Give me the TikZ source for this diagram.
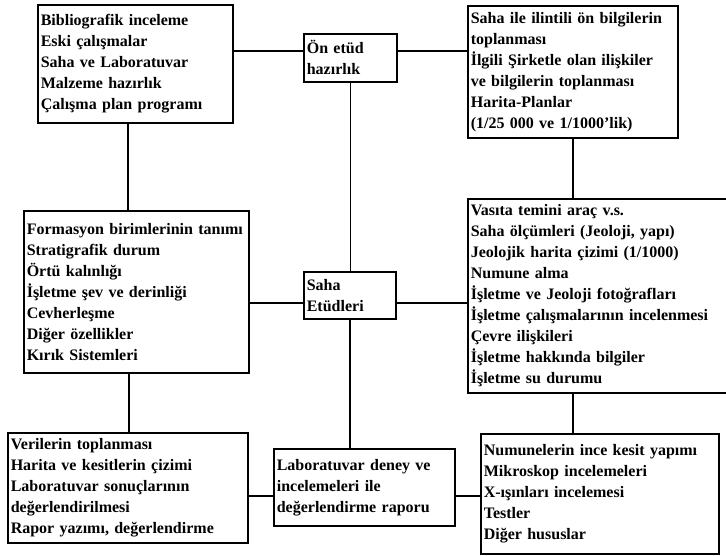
\documentclass[tikz,border=0pt]{standalone}
\usepackage{fontspec}
\setmainfont{Liberation Serif}
\begin{document}
\begin{tikzpicture}[x=1pt,y=-1pt,
  box/.style={draw=black, line width=1.6pt, fill=white, anchor=north west,
    inner xsep=3pt, inner ysep=2pt, align=left,
    font=\fontsize{16}{21}\selectfont\bfseries},
  link/.style={draw=black, line width=1.6pt}]
\useasboundingbox[fill=white] (0,0) rectangle (726,556);

\node[box, minimum width=195pt, minimum height=118pt, text width=189pt] (tl) at (37,4)
  {Bibliografik inceleme\\Eski çalışmalar\\Saha ve Laboratuvar\\Malzeme hazırlık\\Çalışma plan programı};
\node[box, minimum width=93pt, minimum height=48pt, text width=87pt] (oe) at (303,33)
  {Ön etüd\\hazırlık};
\node[box, minimum width=210pt, minimum height=132pt, text width=204pt] (tr) at (467,5)
  {Saha ile ilintili ön bilgilerin\\toplanması\\İlgili Şirketle olan ilişkiler\\ve bilgilerin toplanması\\Harita-Planlar\\(1/25 000 ve 1/1000'lik)};
\node[box, minimum width=225pt, minimum height=162pt, text width=219pt] (ml) at (23,210)
  {Formasyon birimlerinin tanımı\\Stratigrafik durum\\Örtü kalınlığı\\İşletme şev ve derinliği\\Cevherleşme\\Diğer özellikler\\Kırık Sistemleri};
\node[box, minimum width=92pt, minimum height=47pt, text width=86pt] (sa) at (303,271)
  {Saha\\Etüdleri};
\node[box, minimum width=268pt, minimum height=194pt, text width=262pt] (mr) at (467,198)
  {Vasıta temini araç v.s.\\Saha ölçümleri (Jeoloji, yapı)\\Jeolojik harita çizimi (1/1000)\\Numune alma\\İşletme ve Jeoloji fotoğrafları\\İşletme çalışmalarının incelenmesi\\Çevre ilişkileri\\İşletme hakkında bilgiler\\İşletme su durumu};
\node[box, minimum width=240pt, minimum height=110pt, text width=234pt] (bl) at (7,432)
  {Verilerin toplanması\\Harita ve kesitlerin çizimi\\Laboratuvar sonuçlarının\\değerlendirilmesi\\Rapor yazımı, değerlendirme};
\node[box, minimum width=181pt, minimum height=77pt, text width=175pt] (bc) at (273,448)
  {Laboratuvar deney ve\\incelemeleri ile\\değerlendirme raporu};
\node[box, minimum width=238pt, minimum height=120pt, text width=232pt] (br) at (480,433)
  {Numunelerin ince kesit yapımı\\Mikroskop incelemeleri\\X-ışınları incelemesi\\Testler\\Diğer hususlar};

\draw[link] ([yshift=7pt]oe.west) -- ([yshift=7pt]oe.west -| tl.east);
\draw[link] ([yshift=7pt]oe.east) -- ([yshift=7pt]oe.east -| tr.west);
\draw[link] (oe.south) -- (oe.south |- sa.north);
\draw[link] ([xshift=-7.5pt]tl.south) -- ([xshift=-7.5pt]tl.south |- ml.north);
\draw[link] (tr.south) -- (tr.south |- mr.north);
\draw[link] ([yshift=-7.5pt]sa.west) -- ([yshift=-7.5pt]sa.west -| ml.east);
\draw[link] ([yshift=-7.5pt]sa.east) -- ([yshift=-7.5pt]sa.east -| mr.west);
\draw[link] (sa.south) -- (sa.south |- bc.north);
\draw[link] ([xshift=-7.5pt]ml.south) -- ([xshift=-7.5pt]ml.south |- bl.north);
\draw[link] (mr.south -| tr.south) -- (tr.south |- br.north);
\draw[link] ([yshift=-8.5pt]bc.west) -- ([yshift=-8.5pt]bc.west -| bl.east);
\draw[link] ([yshift=-8.5pt]bc.east) -- ([yshift=-8.5pt]bc.east -| br.west);
\end{tikzpicture}
\end{document}
